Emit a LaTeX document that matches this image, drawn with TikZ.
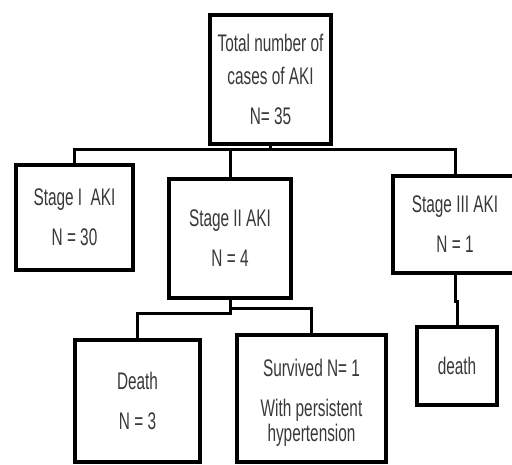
\documentclass[tikz,border=0pt]{standalone}
\usepackage{fontspec}
\setmainfont[FakeStretch=0.64]{Liberation Sans}
\usetikzlibrary{calc}
\definecolor{txt}{HTML}{383838}
\tikzset{
  box/.style={draw=black, line width=3.8pt, inner sep=0pt, align=center,
    text=txt, font=\fontsize{24}{40}\selectfont},
  conn/.style={draw=black, line width=3pt}
}
\begin{document}
\begin{tikzpicture}[x=1pt,y=-1pt]
\useasboundingbox (0,0) rectangle (512,464);
\node[box, minimum width=121pt, minimum height=129pt] (top) at (270.5,79.5)
  {Total number of\\[-7pt]cases of AKI\\N= 35};
\node[box, minimum width=117pt, minimum height=105pt] (s1) at (74.5,217.5)
  {Stage I\ \ AKI\\N = 30};
\node[box, minimum width=122pt, minimum height=119pt] (s2) at (230,238.5)
  {Stage II AKI\\N = 4};
\node[box, minimum width=124pt, minimum height=97pt] (s3) at (455,224.5)
  {Stage III AKI\\N = 1};
\node[box, minimum width=125pt, minimum height=122pt] (d1) at (137.5,401)
  {Death\\N = 3};
\node[box, minimum width=149pt, minimum height=127pt] (sv) at (311.5,398.5)
  {\rule{0pt}{26pt}Survived N= 1\\With persistent\\[-15pt]hypertension};
\node[box, minimum width=80pt, minimum height=78pt] (d2) at (457,366)
  {death};
\coordinate (b) at (270.5,149.5);
\draw[conn] (s1.north) |- (b) -| (s3.north);
\draw[conn] (top.south) -- (b);
\draw[conn] (s2.north) -- (s2.north |- b);
\coordinate (j1) at (230,313);
\coordinate (j2) at (230,308);
\draw[conn] (s2.south) -- (j1) -| (d1.north);
\draw[conn] (j2) -| (sv.north);
\coordinate (k1) at (455,301);
\draw[conn] (s3.south) -- (k1) -- (k1 -| d2.north) -- (d2.north);
\end{tikzpicture}
\end{document}
